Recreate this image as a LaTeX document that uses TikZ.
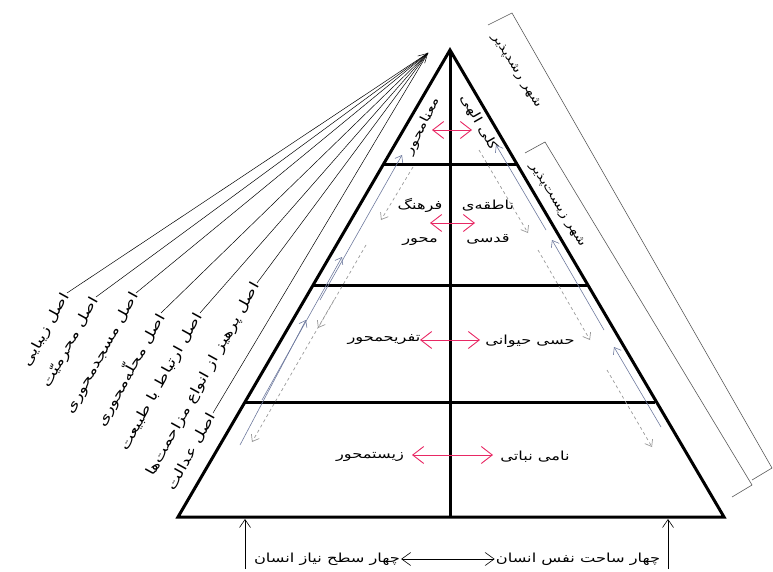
\documentclass[tikz,border=0pt]{standalone}
\usepackage{fontspec}
\newfontfamily\fa[Script=Arabic,FakeStretch=1.3]{DejaVu Sans}
\TeXXeTstate=1
\usetikzlibrary{arrows.meta,calc}
\definecolor{pinkred}{RGB}{232,40,100}
\definecolor{slate}{RGB}{110,122,158}
\newcommand{\fatxt}[1]{\beginR #1\endR}
\tikzset{
  pyramidline/.style={line width=3pt},
  levellabel/.style={font=\fa\fontsize{12.5}{15}\selectfont, inner sep=1pt, align=center},
  fanlabel/.style={font=\fa\fontsize{13.5}{16}\selectfont, rotate=61, anchor=east, inner sep=1pt},
  sidelabel/.style={font=\fa\fontsize{12.5}{15}\selectfont, inner sep=1pt},
  bracketlabel/.style={font=\fa\fontsize{11.5}{14}\selectfont, inner sep=0.5pt, rotate=-58},
  fanline/.style={line width=0.5pt},
  pinkarrow/.style={{Straight Barb[length=11pt,width=17pt]}-{Straight Barb[length=11pt,width=17pt]}, draw=pinkred, line width=0.9pt},
  upflow/.style={-{Straight Barb[length=6pt,width=9pt]}, draw=slate, line width=0.6pt},
  downflow/.style={-{Straight Barb[length=6pt,width=9pt]}, draw=gray!80, dashed, line width=0.7pt},
  bracketline/.style={draw=gray!70!black, line width=0.6pt},
  basearrow/.style={-{Straight Barb[length=8pt,width=11pt]}, line width=0.6pt}
}
\begin{document}
\begin{tikzpicture}[x=1pt,y=-1pt]
\useasboundingbox (0,0) rectangle (773,572);

% pyramid
\coordinate (apex) at (450,50);
\coordinate (bl) at (178,517);
\coordinate (br) at (724,517);
\coordinate (bm) at (450,517);
\draw[pyramidline] (apex) -- (bl) -- (br) -- cycle;
\draw[pyramidline] (apex) -- (bm);
\draw[pyramidline] (383,165) -- (517,165);
\draw[pyramidline] (313,285) -- (587,285);
\draw[pyramidline] (245,402) -- (655,402);

% level texts
\node[sidelabel, rotate=63] (mana) at (423,126) {\fatxt{معنامحور}};
\node[sidelabel, rotate=-60] (kolli) at (479,123) {\fatxt{کلی الهی}};
\node[levellabel] (farhang) at (420,222) {\fatxt{فرهنگ}\\[18pt]\fatxt{محور}};
\node[levellabel] (nateghe) at (488,222) {\fatxt{ناطقه‌ی}\\[18pt]\fatxt{قدسی}};
\node[levellabel] (tafrih) at (384,340) {\fatxt{تفریحمحور}};
\node[levellabel] (hessi) at (530,341) {\fatxt{حسی حیوانی}};
\node[levellabel] (zist) at (370,457) {\fatxt{زیستمحور}};
\node[levellabel] (nami) at (535,457) {\fatxt{نامی نباتی}};

% pink links
\coordinate (p1l) at (432,130); \coordinate (p1r) at (472,130);
\coordinate (p2l) at (430,223); \coordinate (p2r) at (475,223);
\coordinate (p3l) at (420,340); \coordinate (p3r) at (480,340);
\coordinate (p4l) at (412,455); \coordinate (p4r) at (493,455);
\draw[pinkarrow] (p1l) -- (p1r);
\draw[pinkarrow] (p2l) -- (p2r);
\draw[pinkarrow] (p3l) -- (p3r);
\draw[pinkarrow] (p4l) -- (p4r);

% flows along the sides
\draw[upflow] (320,300) -- (402,155);
\draw[upflow] (262,400) -- (342,257);
\draw[upflow] (240,445) -- (306,320);
\draw[downflow] (413,167) -- (381,220);
\draw[downflow] (366,245) -- (318,328);
\draw[downflow] (334,300) -- (252,442);
\draw[upflow] (546,230) -- (496,145);
\draw[upflow] (604,330) -- (552,240);
\draw[upflow] (661,427) -- (614,347);
\draw[downflow] (479,150) -- (528,233);
\draw[downflow] (538,250) -- (590,340);
\draw[downflow] (607,370) -- (652,447);

% principles fan
\coordinate (fantip) at (428,53);
\node[fanlabel] (zibaei) at (67,293) {\fatxt{اصل زیبایی}};
\node[fanlabel] (mahramiat) at (96,297) {\fatxt{اصل محرمیّت}};
\node[fanlabel] (masjed) at (136,293) {\fatxt{اصل مسجدمحوری}};
\node[fanlabel] (mahalle) at (161,313) {\fatxt{اصل محلّه‌محوری}};
\node[fanlabel] (tabiat) at (200,313) {\fatxt{اصل ارتباط با طبیعت}};
\node[fanlabel] (parhiz) at (257,283) {\fatxt{اصل پرهیز از انواع مزاحمت‌ها}};
\node[fanlabel] (edalat) at (213,413) {\fatxt{اصل عدالت}};
\draw[fanline] (zibaei.east) -- (fantip);
\draw[fanline] (mahramiat.east) -- (fantip);
\draw[fanline] (masjed.east) -- (fantip);
\draw[fanline, -{Straight Barb[length=9pt,width=10pt]}] (mahalle.east) -- (fantip);
\draw[fanline] (tabiat.east) -- (fantip);
\draw[fanline] (parhiz.east) -- (fantip);
\draw[fanline] (edalat.east) -- (fantip);

% brackets on the right
\draw[bracketline] (488,25) -- (512,13) -- (772,468) -- (752,480);
\draw[bracketline] (525,153) -- (545,142) -- (752,485) -- (732,497);
\node[bracketlabel] (roshd) at (516,71) {\fatxt{شهر رشدپذیر}};
\node[bracketlabel] (zistpazir) at (557,205) {\fatxt{شهر زیست‌پذیر}};

% base
\node[levellabel] (niaz) at (327,559) {\fatxt{چهار سطح نیاز انسان}};
\node[levellabel] (sahat) at (578,559) {\fatxt{چهار ساحت نفس انسان}};
\draw[{Straight Barb[length=9pt,width=13pt]}-{Straight Barb[length=9pt,width=13pt]}, line width=0.6pt] (niaz.east) -- (sahat.west);
\coordinate (upl0) at (245,569); \coordinate (upl1) at (245,519);
\coordinate (upr0) at (668,569); \coordinate (upr1) at (668,519);
\draw[basearrow] (upl0) -- (upl1);
\draw[basearrow] (upr0) -- (upr1);
\end{tikzpicture}
\end{document}
